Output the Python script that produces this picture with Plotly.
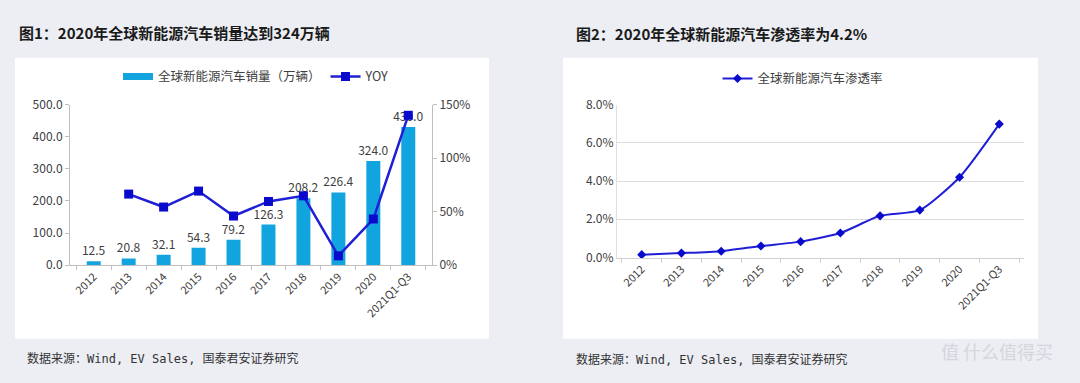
import plotly.graph_objects as go

categories = ["2012", "2013", "2014", "2015", "2016", "2017", "2018", "2019", "2020", "2021Q1-Q3"]
sales = [12.5, 20.8, 32.1, 54.3, 79.2, 126.3, 208.2, 226.4, 324.0, 430.0]
yoy = [None, 0.664, 0.543, 0.692, 0.459, 0.595, 0.648, 0.087, 0.431, 1.40]
penetration = [0.0015, 0.0023, 0.0033, 0.006, 0.0083, 0.0128, 0.0218, 0.0248, 0.042, 0.0698]

left_ticks = [0, 100, 200, 300, 400, 500]
right_ticks = [0, 0.5, 1.0, 1.5]
pen_ticks = [0, 0.02, 0.04, 0.06, 0.08]

W, H = 1080, 383
def px(x): return x / W
def py(y): return 1 - y / H

CJK = "Noto Sans CJK SC"
BAR_C = "#12a4df"
LINE_C = "#1f1fd6"
MARK_C = "#0a0acc"
TXT = "#404040"

fig = go.Figure()

fig.add_trace(go.Bar(
    x=categories, y=sales, name="全球新能源汽车销量（万辆）",
    marker=dict(color=BAR_C, line=dict(width=0)), width=0.4,
    text=[f"{v:.1f}" for v in sales], textposition="outside", constraintext="none",
    textfont=dict(family=CJK, size=12, color=TXT), cliponaxis=False,
    xaxis="x", yaxis="y", showlegend=False))

# legend entry for the bars (wide rectangle symbol)
fig.add_trace(go.Scatter(
    x=[None], y=[None], name="全球新能源汽车销量（万辆）", mode="lines",
    line=dict(color=BAR_C, width=7), xaxis="x", yaxis="y", legend="legend"))

fig.add_trace(go.Scatter(
    x=categories, y=yoy, name="YOY", mode="lines+markers",
    line=dict(color=LINE_C, width=2.5),
    marker=dict(symbol="square", size=9, color=MARK_C),
    xaxis="x", yaxis="y2", legend="legend", cliponaxis=False))

fig.add_trace(go.Scatter(
    x=categories, y=penetration, name="全球新能源汽车渗透率", mode="lines+markers",
    line=dict(color=LINE_C, width=2, shape="spline", smoothing=0.6),
    marker=dict(symbol="diamond", size=7, color=MARK_C),
    xaxis="x3", yaxis="y3", legend="legend2", cliponaxis=False))

axis_font = dict(family=CJK, size=12, color=TXT)
xtick_font = dict(family=CJK, size=11, color=TXT)

fig.update_layout(
    width=W, height=H,
    margin=dict(l=0, r=0, t=0, b=0),
    paper_bgcolor="#eceef3",
    plot_bgcolor="rgba(0,0,0,0)",
    showlegend=True,
    xaxis=dict(domain=[px(70), px(432)], type="category", tickangle=-45,
               tickfont=xtick_font, showline=True, linecolor="#bfbfbf", linewidth=1,
               ticks="outside", tickson="boundaries", ticklen=4, tickcolor="#bfbfbf",
               showgrid=False, anchor="y", fixedrange=True),
    yaxis=dict(domain=[py(267), py(99)], range=[0, 500], tickvals=left_ticks,
               ticktext=[f"{v:.1f}" for v in left_ticks], tickfont=axis_font,
               showline=True, linecolor="#bfbfbf", ticks="outside", ticklen=4,
               tickcolor="#bfbfbf", showgrid=False, zeroline=False, anchor="x"),
    yaxis2=dict(domain=[py(267), py(99)], range=[0, 1.5], overlaying="y", side="right",
                tickvals=right_ticks, ticktext=["0%", "50%", "100%", "150%"],
                tickfont=axis_font, showline=True, linecolor="#bfbfbf", ticks="outside",
                ticklen=4, tickcolor="#bfbfbf", showgrid=False, zeroline=False, anchor="x"),
    xaxis3=dict(domain=[px(617), px(1024)], type="category", tickangle=-45,
                tickfont=xtick_font, showline=True, linecolor="#d0d0d0", linewidth=1,
                ticks="outside", tickson="boundaries", ticklen=4, tickcolor="#d0d0d0",
                showgrid=False, anchor="y3"),
    yaxis3=dict(domain=[py(259), py(99)], range=[0, 0.08], tickvals=pen_ticks,
                ticktext=[f"{v*100:.1f}%" for v in pen_ticks], tickfont=axis_font,
                showline=True, linecolor="#e0e0e0", showgrid=True, gridcolor="#dcdcdc",
                zeroline=False, ticks="", anchor="x3"),
    legend=dict(orientation="h", x=px(256), xanchor="center", y=py(70), yanchor="middle",
                font=dict(family=CJK, size=12.5, color=TXT), bgcolor="rgba(0,0,0,0)",
                itemwidth=30),
    legend2=dict(orientation="h", x=px(803), xanchor="center", y=py(72), yanchor="middle",
                 font=dict(family=CJK, size=12.5, color=TXT), bgcolor="rgba(0,0,0,0)",
                 itemwidth=30),
    shapes=[
        dict(type="rect", xref="paper", yref="paper", x0=px(15), x1=px(489),
             y0=py(344), y1=py(50), fillcolor="white", line=dict(width=0), layer="below"),
        dict(type="rect", xref="paper", yref="paper", x0=px(563), x1=px(1038),
             y0=py(344), y1=py(50), fillcolor="white", line=dict(width=0), layer="below"),
    ],
    annotations=[
        dict(text="<b>图1：2020年全球新能源汽车销量达到324万辆</b>", xref="paper", yref="paper",
             x=px(17), y=py(24), xanchor="left", yanchor="middle", showarrow=False,
             font=dict(family=CJK, size=15, color="#1a1a1a")),
        dict(text="<b>图2：2020年全球新能源汽车渗透率为4.2%</b>", xref="paper", yref="paper",
             x=px(574), y=py(25), xanchor="left", yanchor="middle", showarrow=False,
             font=dict(family=CJK, size=15, color="#1a1a1a")),
        dict(text="数据来源：Wind, EV Sales, 国泰君安证券研究", xref="paper", yref="paper",
             x=px(25), y=py(365), xanchor="left", yanchor="middle", showarrow=False,
             font=dict(family="DejaVu Sans Mono, " + CJK, size=12, color="#333333")),
        dict(text="数据来源：Wind, EV Sales, 国泰君安证券研究", xref="paper", yref="paper",
             x=px(574), y=py(366), xanchor="left", yanchor="middle", showarrow=False,
             font=dict(family="DejaVu Sans Mono, " + CJK, size=12, color="#333333")),
        dict(text="值 什么值得买", xref="paper", yref="paper",
             x=px(1055), y=py(357), xanchor="right", yanchor="middle", showarrow=False,
             font=dict(family=CJK, size=18, color="#d4d6dc")),
    ],
)

fig.write_html("out.html")
